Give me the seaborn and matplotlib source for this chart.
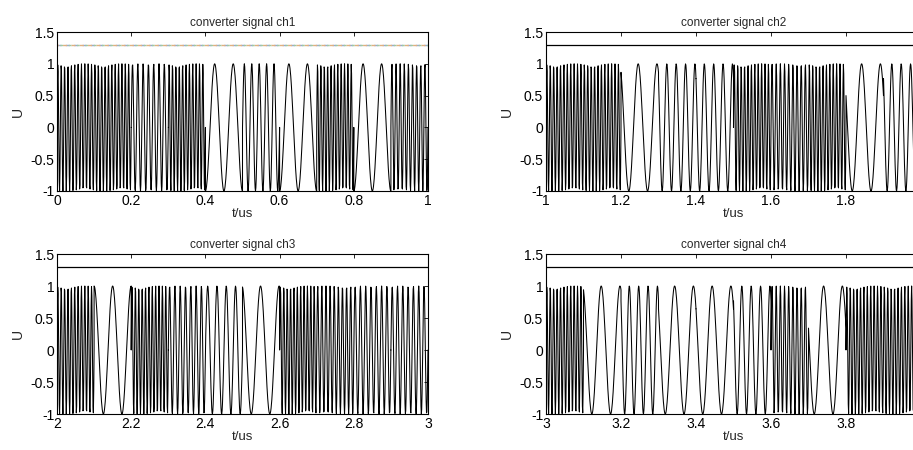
import numpy as np
import matplotlib
matplotlib.use("Agg")
import matplotlib.pyplot as plt
import seaborn as sns
import pandas as pd

# ---- data ----
# each channel: 10 symbols of 0.1 us; carrier frequency (cycles/us) and start phase (deg)
ch_titles = ["converter signal ch1", "converter signal ch2",
             "converter signal ch3", "converter signal ch4"]
ch_start = [0.0, 1.0, 2.0, 3.0]
ch1_freq = [110, 110, 70, 110, 20, 50, 20, 110, 20, 90]
ch2_freq = [110, 110, 20, 40, 40, 110, 90, 110, 20, 40]
ch3_freq = [110, 20, 110, 70, 40, 20, 110, 90, 70, 70]
ch4_freq = [110, 20, 40, 20, 20, 40, 90, 20, 110, 110]
ch1_phase = [0, 0, 0, 0, -90, 0, -90, 0, -90, 0]
ch2_phase = [0, 0, 120, 130, 130, 0, 0, 0, 150, 130]
ch3_phase = [0, 90, 0, 0, 0, 100, 0, 0, 0, 0]
ch4_phase = [0, 110, 130, 140, 140, 130, 0, 160, 0, 0]
symbol_len = 0.1          # us
sample_rate = 1000        # samples per us
threshold = 1.3
x_ticks_rel = [0, 0.2, 0.4, 0.6, 0.8, 1.0]
y_ticks = [-1, -0.5, 0, 0.5, 1, 1.5]
y_ticklabels = ["-1", "-0.5", "0", "0.5", "1", "1.5"]

freqs = [ch1_freq, ch2_freq, ch3_freq, ch4_freq]
phases = [ch1_phase, ch2_phase, ch3_phase, ch4_phase]

sns.set_style("white")
plt.rcParams['font.family'] = ['Liberation Sans', 'DejaVu Sans']

W, H = 913, 450
fig = plt.figure(figsize=(W / 100, H / 100), dpi=100)

# axes boxes in pixels: left, right, top, bottom
boxes = [(57, 428, 32, 191), (546, 921, 32, 191),
         (57, 428, 254, 414), (546, 921, 254, 414)]


def build(t0, fr, ph):
    ts, ys = [], []
    n = int(round(symbol_len * sample_rate))
    for k, (f, p) in enumerate(zip(fr, ph)):
        tt = t0 + k * symbol_len + np.arange(n + 1) / sample_rate
        loc = tt - (t0 + k * symbol_len)
        ys.append(np.sin(2 * np.pi * f * loc + np.deg2rad(p)))
        ts.append(tt)
    return np.concatenate(ts), np.concatenate(ys)


for i in range(4):
    l, r, t, b = boxes[i]
    ax = fig.add_axes([l / W, 1 - b / H, (r - l) / W, (b - t) / H])
    tt, yy = build(ch_start[i], freqs[i], phases[i])
    df = pd.DataFrame({"t": tt, "U": yy})
    sns.lineplot(data=df, x="t", y="U", ax=ax, estimator=None, sort=False,
                 color="black", linewidth=0.75, antialiased=True)
    x0, x1 = ch_start[i], ch_start[i] + 1
    if i == 0:
        for c, ls in [("#8fa8d8", (0, (3, 3))), ("#e0b080", (2, (3, 3))),
                      ("#a0c8a0", (4, (2, 4)))]:
            ax.plot([x0, x1], [threshold, threshold], color=c, lw=1.0,
                    linestyle=ls)
    else:
        ax.plot([x0, x1], [threshold, threshold], color="black", lw=0.9)
    ax.set_xlim(x0, x1)
    ax.set_ylim(-1, 1.5)
    xt = [x0 + v for v in x_ticks_rel]
    ax.set_xticks(xt)
    labels = [f"{v:g}" for v in xt]
    if i in (1, 3):
        labels[-1] = ""
    ax.set_xticklabels(labels)
    ax.set_yticks(y_ticks)
    ax.set_yticklabels(y_ticklabels)
    ax.tick_params(direction="in", length=3, width=0.6, top=True, right=True,
                   labelsize=10, pad=2, colors="black")
    for s in ax.spines.values():
        s.set_visible(True)
        s.set_color("black")
        s.set_linewidth(0.8)
    ax.set_title(ch_titles[i], fontsize=8.5, pad=4)
    ax.set_xlabel("t/us", fontsize=9.5, labelpad=0)
    ax.set_ylabel("U", fontsize=10, labelpad=4)

fig.savefig("out.png", dpi=100, facecolor="white")
